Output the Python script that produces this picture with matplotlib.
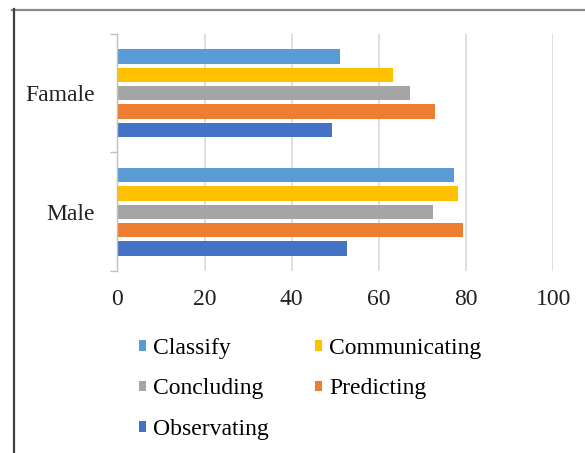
import matplotlib
matplotlib.use("Agg")
import matplotlib.pyplot as plt
from matplotlib.lines import Line2D
import numpy as np

categories = ["Male", "Famale"]
series = ["Classify", "Communicating", "Concluding", "Predicting", "Observating"]
values = {
    "Classify":      [77.2, 51.1],
    "Communicating": [78.1, 63.2],
    "Concluding":    [72.3, 67.2],
    "Predicting":    [79.4, 72.8],
    "Observating":   [52.7, 49.3],
}
colors = {
    "Classify": "#5B9BD5",
    "Communicating": "#FFC000",
    "Concluding": "#A5A5A5",
    "Predicting": "#ED7D31",
    "Observating": "#4472C4",
}
x_ticks = [0, 20, 40, 60, 80, 100]

plt.rcParams["font.family"] = ["Liberation Serif", "DejaVu Serif"]
FS = 17

fig = plt.figure(figsize=(5.85, 4.53), dpi=100)
W, H = 585, 453
ax = fig.add_axes([117.3 / W, 1 - 271 / H, (553.3 - 117.3) / W, (271 - 34) / H])

y = np.arange(len(categories))
slot = 0.155
bar_h = 0.121
for i, name in enumerate(series):
    offset = (2 - i) * slot
    ax.barh(y + offset, values[name], height=bar_h, color=colors[name],
            label=name, zorder=3)

ax.set_xlim(0, 100)
ax.set_ylim(-0.5, len(categories) - 0.5)
ax.set_xticks(x_ticks)
ax.set_xticklabels([str(v) for v in x_ticks], fontsize=FS, color="#222222")
ax.tick_params(axis="x", length=0, pad=13)
ax.grid(axis="x", color="#D9D9D9", linewidth=1.2, zorder=0)

# category labels centred between boundary ticks
ax.set_yticks(np.arange(-0.5, len(categories), 1.0))
ax.set_yticklabels([])
ax.set_yticks(y, minor=True)
ax.set_yticklabels(categories, minor=True, fontsize=FS, color="#222222")
ax.tick_params(axis="y", which="major", length=5, width=1.0, color="#BFBFBF",
               direction="out")
ax.tick_params(axis="y", which="minor", length=0, pad=16)

for s in ["top", "right", "bottom"]:
    ax.spines[s].set_visible(False)
ax.spines["left"].set_color("#BFBFBF")
ax.spines["left"].set_linewidth(1.0)
ax.spines["left"].set_zorder(4)

# legend: first column Classify/Concluding/Observating, second Communicating/Predicting
handles, labels = ax.get_legend_handles_labels()
order = [0, 2, 4, 1, 3]
fig.legend([handles[k] for k in order], [labels[k] for k in order],
           ncol=2, frameon=False, fontsize=FS,
           loc="upper left", bbox_to_anchor=(127 / W, 1 - 326 / H),
           handlelength=0.3, handleheight=0.3, handletextpad=0.3,
           columnspacing=1.95, labelspacing=0.83, borderpad=0.0)

# outer frame edges
fig.add_artist(Line2D([12 / W, 1.0], [1 - 9.5 / H, 1 - 9.5 / H],
                      transform=fig.transFigure, color="#8C8C8C", linewidth=1.6))
fig.add_artist(Line2D([13.5 / W, 13.5 / W], [1 - 9 / H, 0.0],
                      transform=fig.transFigure, color="#404040", linewidth=1.6))

fig.savefig("out.png", dpi=100)
